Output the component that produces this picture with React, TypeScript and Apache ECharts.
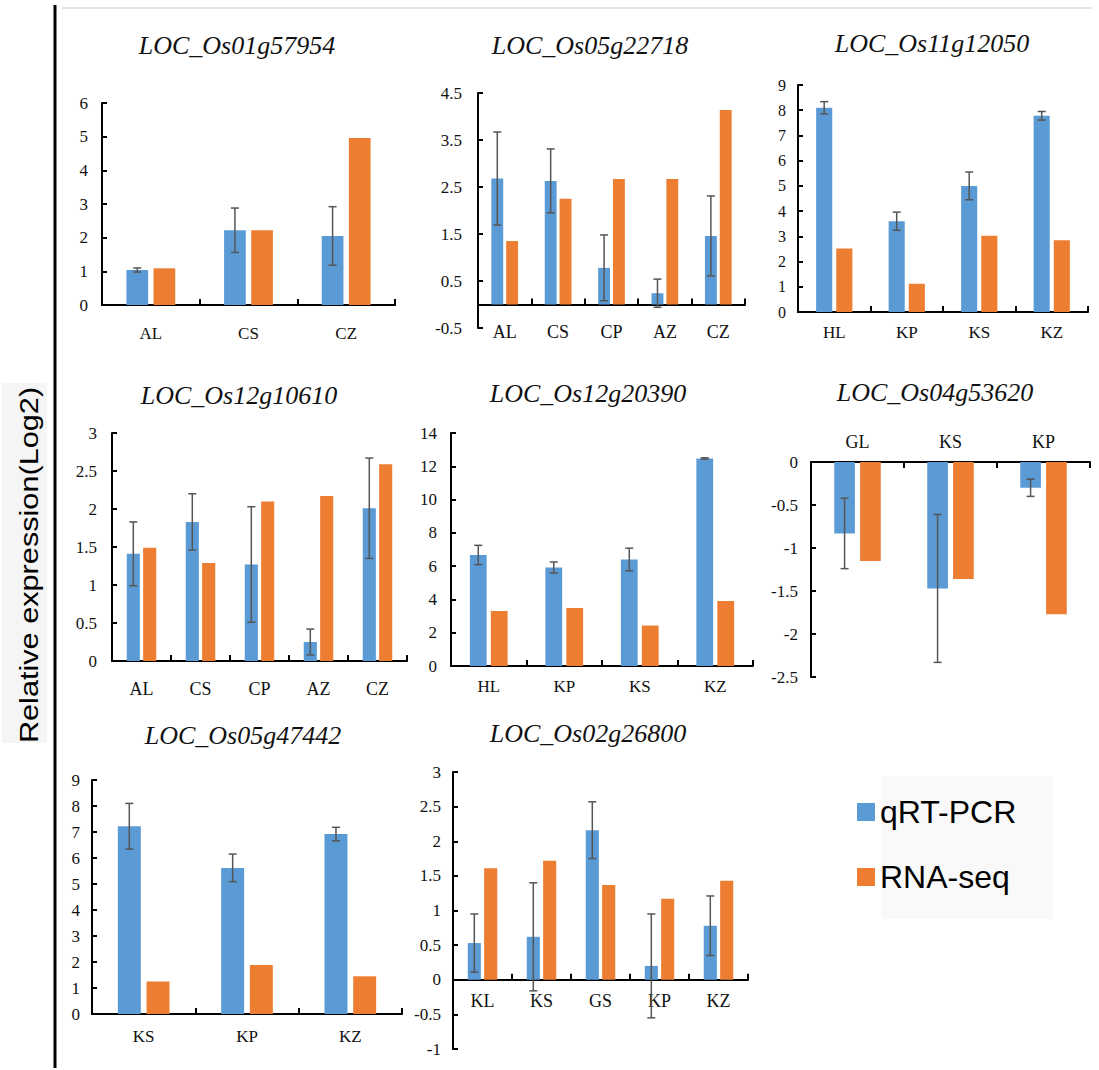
import React, { useEffect, useRef } from 'react';
import * as echarts from 'echarts';

const BLUE = '#5B9BD5';
const ORANGE = '#ED7D31';
const AXIS = '#000000';
const ERR = '#555555';
const SERIF = '"Liberation Serif", "Times New Roman", serif';
const SANS = '"Liberation Sans", Arial, sans-serif';

const SERIES_NAMES = ['qRT-PCR', 'RNA-seq'];
const Y_TITLE = 'Relative expression(Log2)';

// ---- data, one block per gene ----
const titles = [
  'LOC_Os01g57954',
  'LOC_Os05g22718',
  'LOC_Os11g12050',
  'LOC_Os12g10610',
  'LOC_Os12g20390',
  'LOC_Os04g53620',
  'LOC_Os05g47442',
  'LOC_Os02g26800',
];

const cats1 = ['AL', 'CS', 'CZ'];
const qpcr1 = [1.04, 2.22, 2.05];
const err1 = [0.06, 0.66, 0.87];
const rna1 = [1.09, 2.22, 4.96];

const cats2 = ['AL', 'CS', 'CP', 'AZ', 'CZ'];
const qpcr2 = [2.68, 2.63, 0.78, 0.24, 1.46];
const err2 = [0.99, 0.68, 0.7, 0.3, 0.85];
const rna2 = [1.35, 2.25, 2.67, 2.67, 4.14];

const cats3 = ['HL', 'KP', 'KS', 'KZ'];
const qpcr3 = [8.1, 3.6, 5.0, 7.78];
const err3 = [0.24, 0.36, 0.55, 0.17];
const rna3 = [2.52, 1.12, 3.02, 2.84];

const cats4 = ['AL', 'CS', 'CP', 'AZ', 'CZ'];
const qpcr4 = [1.41, 1.83, 1.27, 0.25, 2.01];
const err4 = [0.42, 0.37, 0.76, 0.17, 0.66];
const rna4 = [1.49, 1.29, 2.1, 2.17, 2.59];

const cats5 = ['HL', 'KP', 'KS', 'KZ'];
const qpcr5 = [6.67, 5.92, 6.4, 12.47];
const err5 = [0.58, 0.33, 0.68, 0.04];
const rna5 = [3.31, 3.49, 2.43, 3.9];

const cats6 = ['GL', 'KS', 'KP'];
const qpcr6 = [-0.83, -1.47, -0.3];
const err6 = [0.41, 0.86, 0.1];
const rna6 = [-1.15, -1.36, -1.77];

const cats7 = ['KS', 'KP', 'KZ'];
const qpcr7 = [7.22, 5.62, 6.92];
const err7 = [0.88, 0.53, 0.26];
const rna7 = [1.25, 1.88, 1.45];

const cats8 = ['KL', 'KS', 'GS', 'KP', 'KZ'];
const qpcr8 = [0.53, 0.62, 2.16, 0.2, 0.78];
const err8 = [0.42, 0.78, 0.41, 0.75, 0.43];
const rna8 = [1.61, 1.72, 1.37, 1.17, 1.43];

// y-axis scales per panel
const yMins = [0, -0.5, 0, 0, 0, -2.5, 0, -1];
const yMaxs = [6, 4.5, 9, 3, 14, 0, 9, 3];
const ySteps = [1, 1, 1, 0.5, 2, 0.5, 1, 0.5];

const panelData = [
  { cats: cats1, q: qpcr1, e: err1, r: rna1 },
  { cats: cats2, q: qpcr2, e: err2, r: rna2 },
  { cats: cats3, q: qpcr3, e: err3, r: rna3 },
  { cats: cats4, q: qpcr4, e: err4, r: rna4 },
  { cats: cats5, q: qpcr5, e: err5, r: rna5 },
  { cats: cats6, q: qpcr6, e: err6, r: rna6 },
  { cats: cats7, q: qpcr7, e: err7, r: rna7 },
  { cats: cats8, q: qpcr8, e: err8, r: rna8 },
];

// ---- layout (positions / styles) ----
const layout = [
  { left: 102, top: 103, width: 293, height: 202, tx: 237, ty: 45, xMode: 'bottom', catMargin: 20, tickMargin: 14, catFont: 17, tickFont: 17 },
  { left: 478, top: 93, width: 267, height: 235, tx: 590, ty: 45, xMode: 'split', catMargin: -5, tickMargin: 16, catFont: 18, tickFont: 17 },
  { left: 798, top: 85, width: 290, height: 227, tx: 932, ty: 43, xMode: 'bottom', catMargin: 12, tickMargin: 12, catFont: 17, tickFont: 16 },
  { left: 112, top: 433, width: 295, height: 228, tx: 239, ty: 395, xMode: 'bottom', catMargin: 19, tickMargin: 15, catFont: 18, tickFont: 17 },
  { left: 451, top: 433, width: 302, height: 233, tx: 588, ty: 393, xMode: 'bottom', catMargin: 12, tickMargin: 14, catFont: 17, tickFont: 17 },
  { left: 811, top: 462, width: 279, height: 215, tx: 935, ty: 392, xMode: 'top', catMargin: 11, tickMargin: 13, catFont: 18, tickFont: 17 },
  { left: 92, top: 780, width: 310, height: 234, tx: 243, ty: 735, xMode: 'bottom', catMargin: 14, tickMargin: 12, catFont: 17, tickFont: 17 },
  { left: 453, top: 772, width: 295, height: 277, tx: 588, ty: 733, xMode: 'zero', catMargin: 12, tickMargin: 12, catFont: 18, tickFont: 17 },
];

const CAT_GAP = 0.5;
const BAR_GAP = 0.25;

function buildOption() {
  const grid: any[] = [];
  const xAxis: any[] = [];
  const yAxis: any[] = [];
  const series: any[] = [];
  const extraX: any[] = [];
  const graphic: any[] = [];

  const lineStyle = { color: AXIS, width: 2 };

  panelData.forEach((p, i) => {
    const L = layout[i];
    grid.push({ left: L.left, top: L.top, width: L.width, height: L.height, containLabel: false });

    yAxis.push({
      type: 'value',
      gridIndex: i,
      min: yMins[i],
      max: yMaxs[i],
      interval: ySteps[i],
      axisLine: { show: true, onZero: false, lineStyle },
      axisTick: { show: true, inside: true, length: 5, lineStyle },
      splitLine: { show: false },
      axisLabel: { margin: L.tickMargin, fontFamily: SERIF, fontSize: L.tickFont, color: '#111' },
    });

    // distance of the value-0 line above the grid's bottom edge (from the y scale)
    const zeroUp = (L.height * (0 - yMins[i])) / (yMaxs[i] - yMins[i]);

    const labelCfg = { show: true, margin: L.catMargin, fontFamily: SERIF, fontSize: L.catFont, color: '#111', interval: 0 };
    const tickCfg = { show: true, inside: true, length: 6, lineStyle };

    if (L.xMode === 'split') {
      xAxis.push({
        type: 'category', gridIndex: i, data: p.cats, position: 'bottom',
        axisLine: { show: false, onZero: false },
        axisTick: { show: false },
        axisLabel: labelCfg,
      });
      extraX.push({
        type: 'category', gridIndex: i, data: p.cats, position: 'bottom',
        offset: -zeroUp,
        axisLine: { show: true, onZero: false, lineStyle },
        axisTick: tickCfg,
        axisLabel: { show: false },
      });
    } else {
      xAxis.push({
        type: 'category', gridIndex: i, data: p.cats,
        position: L.xMode === 'top' ? 'top' : 'bottom',
        offset: L.xMode === 'zero' ? -zeroUp : 0,
        axisLine: { show: true, onZero: false, lineStyle },
        axisTick: tickCfg,
        axisLabel: labelCfg,
      });
    }

    const band = L.width / p.cats.length;
    const barW = (band * (1 - CAT_GAP)) / (2 + BAR_GAP);
    const off = -(barW * (2 + BAR_GAP)) / 2 + barW / 2;

    series.push({
      name: SERIES_NAMES[0], type: 'bar', xAxisIndex: i, yAxisIndex: i,
      data: p.q, barGap: BAR_GAP * 100 + '%', barCategoryGap: CAT_GAP * 100 + '%',
      itemStyle: { color: BLUE },
    });
    series.push({
      name: SERIES_NAMES[1], type: 'bar', xAxisIndex: i, yAxisIndex: i,
      data: p.r, barGap: BAR_GAP * 100 + '%', barCategoryGap: CAT_GAP * 100 + '%',
      itemStyle: { color: ORANGE },
    });
    series.push({
      name: 'error', type: 'custom', xAxisIndex: i, yAxisIndex: i,
      data: p.q.map((v, k) => [k, v, p.e[k]]),
      z: 5,
      renderItem: (params: any, api: any) => {
        const k = api.value(0);
        const v = api.value(1);
        const e = api.value(2);
        const hi = api.coord([k, v + e]);
        const lo = api.coord([k, v - e]);
        const x = hi[0] + off;
        const st = { stroke: ERR, lineWidth: 1.5 };
        return {
          type: 'group',
          children: [
            { type: 'line', shape: { x1: x, y1: hi[1], x2: x, y2: lo[1] }, style: st },
            { type: 'line', shape: { x1: x - 4, y1: hi[1], x2: x + 4, y2: hi[1] }, style: st },
            { type: 'line', shape: { x1: x - 4, y1: lo[1], x2: x + 4, y2: lo[1] }, style: st },
          ],
        };
      },
    });

    graphic.push({
      type: 'text', x: L.tx, y: L.ty,
      style: {
        text: titles[i], fontFamily: SERIF, fontSize: 26, fontStyle: 'italic',
        fill: '#111', align: 'center', verticalAlign: 'middle',
      },
    });
  });

  // background decorations
  graphic.unshift(
    { type: 'rect', shape: { x: 2, y: 383, width: 45, height: 360 }, style: { fill: '#f5f5f5' }, z: -10 },
    { type: 'rect', shape: { x: 881, y: 776, width: 172, height: 143 }, style: { fill: '#f9f9f9' }, z: -10 },
    { type: 'line', shape: { x1: 62, y1: 8, x2: 1092, y2: 8 }, style: { stroke: '#e4e4e4', lineWidth: 2 }, z: -10 },
    { type: 'line', shape: { x1: 55, y1: 5, x2: 55, y2: 1068 }, style: { stroke: '#000', lineWidth: 3 } },
    {
      type: 'text', x: 29, y: 565, rotation: Math.PI / 2, scaleX: 1.18,
      style: {
        text: Y_TITLE, fontFamily: SANS, fontSize: 26, fill: '#000',
        align: 'center', verticalAlign: 'middle',
      },
    }
  );

  return {
    animation: false,
    backgroundColor: '#ffffff',
    grid,
    xAxis: xAxis.concat(extraX),
    yAxis,
    series,
    graphic,
    legend: {
      data: SERIES_NAMES,
      orient: 'vertical',
      left: 857,
      top: 794,
      padding: 0,
      itemWidth: 18,
      itemHeight: 18,
      itemGap: 29,
      icon: 'rect',
      selectedMode: false,
      textStyle: { fontFamily: SANS, fontSize: 32, color: '#000', lineHeight: 36 },
    },
  };
}

export default function App() {
  const ref = useRef<HTMLDivElement>(null);
  useEffect(() => {
    document.body.style.margin = '0';
    const chart = echarts.init(ref.current as HTMLDivElement, undefined, { renderer: 'svg' });
    chart.setOption(buildOption() as any);
    return () => chart.dispose();
  }, []);
  return <div ref={ref} style={{ width: 1099, height: 1070 }} />;
}
